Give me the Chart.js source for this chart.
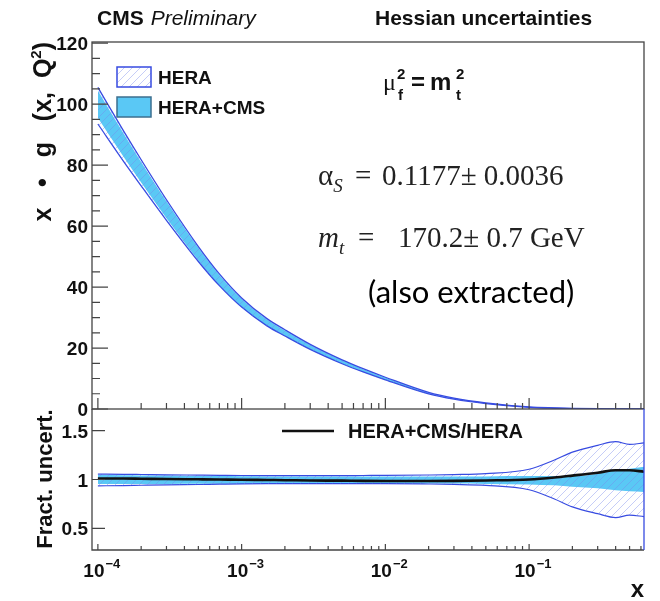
<!DOCTYPE html>
<html>
<head>
<meta charset="utf-8">
<script src="https://cdn.jsdelivr.net/npm/chart.js@4.4.1/dist/chart.umd.min.js"></script>
<style>
  body { margin: 0; background: #fff; }
  #wrap { width: 660px; height: 601px; }
</style>
</head>
<body>
<div id="wrap"><canvas id="pdf" width="660" height="601"></canvas></div>
<script>
// x grid and gluon density x*g(x,Q2), HERA central
const xs = [1e-4, 1.5e-4, 2e-4, 3e-4, 5e-4, 7e-4, 1e-3, 1.5e-3, 2e-3, 3e-3, 5e-3, 7e-3,
            1e-2, 2e-2, 3e-2, 5e-2, 0.1, 0.15, 0.2, 0.3, 0.4, 0.5, 0.63];
const gluon = [100, 86.8, 77.8, 65.5, 51, 42.5, 35, 28.5, 25, 20.4, 15.5, 12.7,
               10.0, 5.2, 3.4, 1.9, 0.62, 0.3, 0.16, 0.06, 0.03, 0.015, 0.008];

// fractional bands, relative to HERA central
const heraUp = [1.055, 1.053, 1.051, 1.048, 1.045, 1.043, 1.041, 1.04, 1.04, 1.04, 1.04, 1.041,
                1.042, 1.046, 1.05, 1.06, 1.105, 1.2, 1.28, 1.35, 1.388, 1.36, 1.375];
const heraDn = [0.935, 0.938, 0.941, 0.945, 0.949, 0.952, 0.955, 0.957, 0.958, 0.958, 0.958, 0.958,
                0.958, 0.954, 0.95, 0.94, 0.895, 0.8, 0.72, 0.65, 0.61, 0.635, 0.62];
const cmsUp = [1.045, 1.044, 1.042, 1.04, 1.037, 1.035, 1.033, 1.031, 1.03, 1.03, 1.03, 1.03,
               1.03, 1.03, 1.03, 1.032, 1.035, 1.035, 1.035, 1.06, 1.095, 1.11, 1.13];
const cmsDn = [0.955, 0.955, 0.955, 0.955, 0.956, 0.956, 0.957, 0.958, 0.958, 0.958, 0.958, 0.958,
               0.958, 0.958, 0.958, 0.955, 0.95, 0.94, 0.925, 0.91, 0.89, 0.88, 0.873];
// HERA+CMS / HERA
const ratio = [1.01, 1.01, 1.008, 1.005, 1.002, 1.0, 0.998, 0.995, 0.993, 0.99, 0.988, 0.986,
               0.985, 0.985, 0.986, 0.99, 1.0, 1.02, 1.04, 1.07, 1.095, 1.095, 1.08];

// tick labels
const xDecades = [-4, -3, -2, -1];
const yTicks = [0, 20, 40, 60, 80, 100, 120];
const rTicks = [0.5, 1, 1.5];

const BLUE = 'rgb(55,75,225)';
const SKY = 'rgb(90,200,245)';
const SANS = '"Liberation Sans", Arial, sans-serif';
const SERIF = '"Liberation Serif", "Times New Roman", serif';

function hatch() {
  const c = document.createElement('canvas');
  c.width = 8; c.height = 8;
  const g = c.getContext('2d');
  g.strokeStyle = 'rgba(120,135,235,0.42)';
  g.lineWidth = 1;
  g.beginPath();
  g.moveTo(-1, 9); g.lineTo(9, -1);
  g.moveTo(-1, 1); g.lineTo(1, -1);
  g.moveTo(7, 9); g.lineTo(9, 7);
  g.stroke();
  return g.createPattern(c, 'repeat');
}
const hatchFill = hatch();

const pts = arr => xs.map((x, i) => ({x: x, y: arr[i]}));
const abs = f => xs.map((x, i) => ({x: x, y: gluon[i] * f[i]}));

function band(data, axis, color, width, fill, bg, order) {
  return {
    data: data, yAxisID: axis, borderColor: color, borderWidth: width,
    fill: fill, backgroundColor: bg, pointRadius: 0, order: order,
    cubicInterpolationMode: 'monotone'
  };
}

function txt(ctx, s, x, y, font, align) {
  ctx.font = font;
  ctx.textAlign = align || 'left';
  ctx.fillText(s, x, y);
  return x + ctx.measureText(s).width;
}

const decor = {
  id: 'decor',
  afterDatasetsDraw(chart) {
    const {ctx, chartArea: a, scales} = chart;
    const x = scales.x, y = scales.y, r = scales.y2;
    const mid = y.bottom;
    ctx.save();
    ctx.fillStyle = '#111';
    ctx.textBaseline = 'alphabetic';

    // frames
    ctx.strokeStyle = '#444';
    ctx.lineWidth = 1.3;
    ctx.strokeRect(a.left, a.top, a.right - a.left, mid - a.top);
    ctx.beginPath();
    ctx.moveTo(a.left, mid); ctx.lineTo(a.left, a.bottom); ctx.lineTo(a.right, a.bottom);
    ctx.stroke();
    ctx.strokeStyle = BLUE;
    ctx.beginPath(); ctx.moveTo(a.right, mid); ctx.lineTo(a.right, a.bottom); ctx.stroke();

    // x ticks (log), both panels
    ctx.strokeStyle = '#444';
    ctx.lineWidth = 1.2;
    ctx.beginPath();
    for (let d = -5; d <= 0; d++) {
      for (let m = 1; m <= 9; m++) {
        const v = m * Math.pow(10, d);
        if (v < x.min || v > x.max) continue;
        const px = x.getPixelForValue(v);
        const big = m === 1;
        ctx.moveTo(px, mid); ctx.lineTo(px, mid - (big ? 11 : 6));
        ctx.moveTo(px, a.bottom); ctx.lineTo(px, a.bottom - (big ? 6 : 4));
      }
    }
    // y ticks
    for (let v = 0; v <= 120; v += 5) {
      const py = y.getPixelForValue(v);
      ctx.moveTo(a.left, py); ctx.lineTo(a.left + (v % 20 === 0 ? 16 : 8), py);
    }
    rTicks.forEach(v => {
      const py = r.getPixelForValue(v);
      ctx.moveTo(a.left, py); ctx.lineTo(a.left + 13, py);
    });
    ctx.stroke();

    // tick labels
    const lab = 'bold 19px ' + SANS;
    yTicks.forEach(v => txt(ctx, String(v), a.left - 4, y.getPixelForValue(v) + 7, lab, 'right'));
    rTicks.forEach(v => txt(ctx, String(v), a.left - 4, r.getPixelForValue(v) + 7, lab, 'right'));
    xDecades.forEach(d => {
      const px = x.getPixelForValue(Math.pow(10, d));
      ctx.font = lab;
      const w = ctx.measureText('10').width;
      txt(ctx, '10', px - w / 2 - 4, 577, lab);
      txt(ctx, '\u2212' + (-d), px + w / 2 - 3, 568, 'bold 13px ' + SANS);
    });

    // axis titles
    txt(ctx, 'x', a.right, 597, 'bold 24px ' + SANS, 'right');
    ctx.save();
    ctx.translate(51, 42);
    ctx.rotate(-Math.PI / 2);
    const big = 'bold 25px ' + SANS, sup = 'bold 15px ' + SANS;
    ctx.font = sup;
    const w2 = ctx.measureText('2').width;
    ctx.font = big;
    const wp = ctx.measureText(')').width;
    const main = 'x   \u2022   g   (x,  Q';
    const wm = ctx.measureText(main).width;
    let p = -(wm + w2 + wp);
    p = txt(ctx, main, p, 0, big);
    p = txt(ctx, '2', p, -10, sup);
    txt(ctx, ')', p, 0, big);
    ctx.restore();
    ctx.save();
    ctx.translate(52, 479);
    ctx.rotate(-Math.PI / 2);
    txt(ctx, 'Fract. uncert.', 0, 0, 'bold 22px ' + SANS, 'center');
    ctx.restore();

    // header
    let hx = txt(ctx, 'CMS', 97, 25, 'bold 21px ' + SANS);
    txt(ctx, 'Preliminary', hx + 7, 25, 'italic 21px ' + SANS);
    txt(ctx, 'Hessian uncertainties', 375, 25, 'bold 21px ' + SANS);

    // scale choice
    txt(ctx, '\u03bc', 383, 90, '24px ' + SERIF);
    txt(ctx, '2', 397, 79, 'bold 15px ' + SANS);
    txt(ctx, 'f', 398, 100, 'bold 15px ' + SANS);
    txt(ctx, '=', 411, 90, 'bold 24px ' + SANS);
    txt(ctx, 'm', 430, 90, 'bold 24px ' + SANS);
    txt(ctx, '2', 456, 79, 'bold 15px ' + SANS);
    txt(ctx, 't', 456, 100, 'bold 15px ' + SANS);

    // fit results
    ctx.fillStyle = '#222';
    let ax = txt(ctx, '\u03b1', 318, 185, '29px ' + SERIF);
    txt(ctx, 'S', ax, 192, 'italic 19px ' + SERIF);
    txt(ctx, '=', 355, 185, '29px ' + SERIF);
    txt(ctx, '0.1177\u00b1 0.0036', 382, 185, '29px ' + SERIF);
    let mx = txt(ctx, 'm', 318, 247, 'italic 29px ' + SERIF);
    txt(ctx, 't', mx, 254, 'italic 19px ' + SERIF);
    txt(ctx, '=', 358, 247, '29px ' + SERIF);
    txt(ctx, '170.2\u00b1 0.7 GeV', 398, 247, '29px ' + SERIF);
    ctx.fillStyle = '#000';
    txt(ctx, '(also extracted)', 368, 303, '31px Lato, ' + SANS);

    // legend top
    ctx.fillStyle = hatchFill;
    ctx.fillRect(117, 67, 34, 20);
    ctx.strokeStyle = BLUE; ctx.lineWidth = 1.5;
    ctx.strokeRect(117, 67, 34, 20);
    ctx.fillStyle = SKY;
    ctx.fillRect(117, 97, 34, 20);
    ctx.strokeStyle = '#3d6f8f';
    ctx.strokeRect(117, 97, 34, 20);
    ctx.fillStyle = '#111';
    txt(ctx, 'HERA', 158, 84, 'bold 19px ' + SANS);
    txt(ctx, 'HERA+CMS', 158, 114, 'bold 19px ' + SANS);

    // legend bottom
    ctx.strokeStyle = '#111'; ctx.lineWidth = 2.5;
    ctx.beginPath(); ctx.moveTo(282, 431); ctx.lineTo(334, 431); ctx.stroke();
    txt(ctx, 'HERA+CMS/HERA', 348, 438, 'bold 20px ' + SANS);
    ctx.restore();
  }
};

new Chart(document.getElementById('pdf'), {
  type: 'line',
  data: {
    datasets: [
      band(abs(heraUp), 'y', BLUE, 1.3, 1, hatchFill, 1),
      band(abs(heraDn), 'y', BLUE, 1.3, false, 'transparent', 2),
      band(abs(cmsUp), 'y', SKY, 0, 3, SKY, 3),
      band(abs(cmsDn), 'y', SKY, 0, false, 'transparent', 4),
      band(pts(ratio), 'y2', '#111', 2.6, false, 'transparent', 0),
      band(pts(heraUp), 'y2', BLUE, 1.2, 6, hatchFill, 1),
      band(pts(heraDn), 'y2', BLUE, 1.2, false, 'transparent', 2),
      band(pts(cmsUp), 'y2', SKY, 0, 8, SKY, 3),
      band(pts(cmsDn), 'y2', SKY, 0, false, 'transparent', 4)
    ]
  },
  options: {
    responsive: false,
    animation: false,
    devicePixelRatio: 1,
    layout: { padding: { left: 0, right: 16, top: 42, bottom: 0 } },
    plugins: { legend: { display: false }, tooltip: { enabled: false } },
    scales: {
      x: {
        type: 'logarithmic', min: 9.1e-5, max: 0.63,
        ticks: { display: false }, grid: { display: false }, border: { display: false },
        afterFit: s => { s.height = 51; }
      },
      y: {
        type: 'linear', min: 0, max: 120.4, position: 'left',
        stack: 'pads', stackWeight: 367, weight: 2,
        ticks: { display: false }, grid: { display: false }, border: { display: false },
        afterFit: s => { s.width = 92; }
      },
      y2: {
        type: 'linear', min: 0.278, max: 1.722, position: 'left',
        stack: 'pads', stackWeight: 141, weight: 1,
        ticks: { display: false }, grid: { display: false }, border: { display: false },
        afterFit: s => { s.width = 92; }
      }
    }
  },
  plugins: [decor]
});
</script>
</body>
</html>
